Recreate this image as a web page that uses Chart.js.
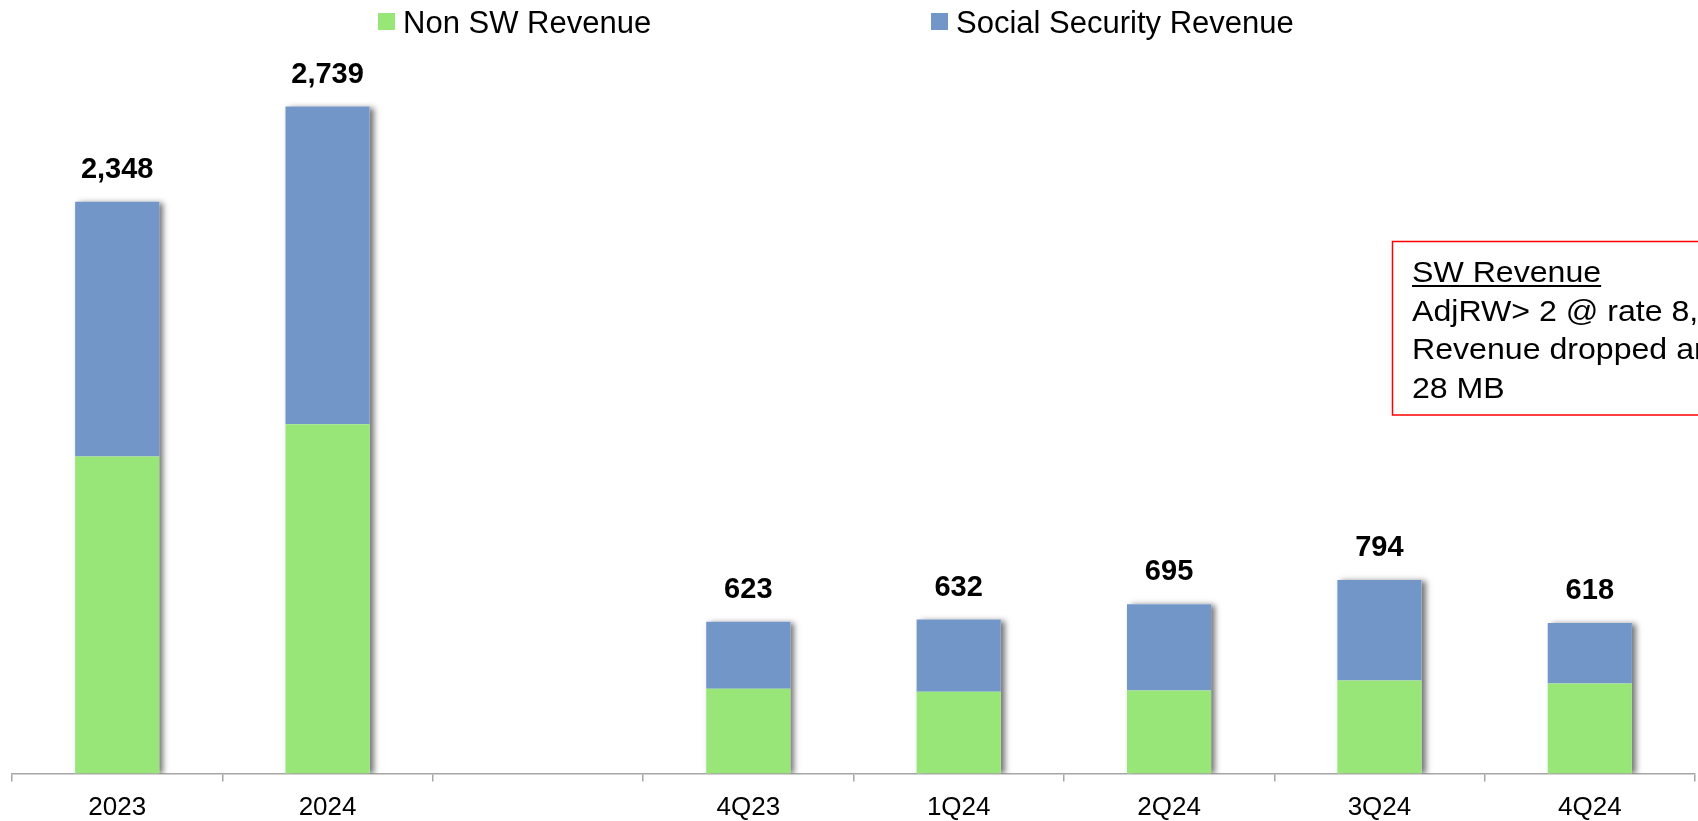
<!DOCTYPE html>
<html><head><meta charset="utf-8">
<script src="https://cdn.jsdelivr.net/npm/chart.js@4.4.0/dist/chart.umd.min.js"></script>
<style>html,body{margin:0;padding:0;background:#fff;overflow:hidden}#wrap{width:1698px;height:821px;position:relative}</style>
</head><body><div id="wrap"><canvas id="c"></canvas></div>
<script>
const categories = ['2023', '2024', '', '4Q23', '1Q24', '2Q24', '3Q24', '4Q24'];
const nonSwRevenue = [1302, 1434, null, 348, 335, 341, 382, 369];
const socialSecurityRevenue = [1046, 1305, null, 275, 297, 354, 412, 249];
const totalLabels = ['2,348', '2,739', null, '623', '632', '695', '794', '618'];
const seriesNames = ['Non SW Revenue', 'Social Security Revenue'];
const noteTitle = 'SW Revenue';
const noteLines = ['AdjRW> 2 @ rate 8,000', 'Revenue dropped around', '28 MB'];

const FONT = "'Liberation Sans', Arial, sans-serif";
const GREEN = '#98E677';
const BLUE = '#7296C8';

const shadowPlugin = {
  id: 'stackShadow',
  beforeDatasetsDraw(chart) {
    const ctx = chart.ctx, a = chart.chartArea;
    const m0 = chart.getDatasetMeta(0), m1 = chart.getDatasetMeta(1);
    ctx.save();
    ctx.beginPath(); ctx.rect(a.left, a.top - 40, a.right - a.left, a.bottom - a.top + 40); ctx.clip();
    m1.data.forEach((el, i) => {
      if (socialSecurityRevenue[i] == null) return;
      const base = m0.data[i].base;
      ctx.save();
      ctx.shadowColor = 'rgba(0,0,0,0.55)';
      ctx.shadowBlur = 6;
      ctx.shadowOffsetX = 4;
      ctx.shadowOffsetY = 1;
      ctx.fillStyle = '#ffffff';
      ctx.fillRect(el.x - el.width / 2, el.y, el.width, base - el.y);
      ctx.restore();
    });
    ctx.restore();
  }
};

const overlayPlugin = {
  id: 'overlay',
  afterDraw(chart) {
    const ctx = chart.ctx;
    const m1 = chart.getDatasetMeta(1);
    ctx.save();
    // totals
    ctx.fillStyle = '#000';
    ctx.font = 'bold 29px ' + FONT;
    ctx.textAlign = 'center';
    ctx.textBaseline = 'alphabetic';
    m1.data.forEach((el, i) => {
      if (totalLabels[i] == null) return;
      ctx.fillText(totalLabels[i], el.x, el.y - 24);
    });
    // legend
    const items = [{x: 378, c: GREEN}, {x: 931, c: BLUE}];
    ctx.textAlign = 'left';
    ctx.font = '31px ' + FONT;
    items.forEach((it, i) => {
      ctx.fillStyle = it.c;
      ctx.fillRect(it.x, 13, 17, 17);
      ctx.fillStyle = '#000';
      ctx.fillText(seriesNames[i], it.x + 25, 33);
    });
    // note box
    ctx.fillStyle = '#fff';
    ctx.fillRect(1392, 241, 320, 174);
    ctx.strokeStyle = '#FF0000';
    ctx.lineWidth = 1.5;
    ctx.strokeRect(1392.5, 241.5, 320, 173.5);
    ctx.save();
    ctx.translate(1412, 0);
    ctx.scale(1.07, 1);
    ctx.fillStyle = '#000';
    ctx.font = '30px ' + FONT;
    ctx.fillText(noteTitle, 0, 282);
    const w = ctx.measureText(noteTitle).width;
    ctx.fillRect(0, 285, w, 2);
    noteLines.forEach((t, i) => ctx.fillText(t, 0, 282 + 38.5 * (i + 1)));
    ctx.restore();
    ctx.restore();
  }
};

new Chart(document.getElementById('c'), {
  type: 'bar',
  data: {
    labels: categories,
    datasets: [
      {label: seriesNames[0], data: nonSwRevenue, backgroundColor: GREEN, barPercentage: 0.4, categoryPercentage: 1},
      {label: seriesNames[1], data: socialSecurityRevenue, backgroundColor: BLUE, barPercentage: 0.4, categoryPercentage: 1}
    ]
  },
  options: {
    responsive: true,
    maintainAspectRatio: false,
    animation: false,
    layout: {padding: {left: 12, right: 3, top: 43, bottom: -13}},
    plugins: {legend: {display: false}, tooltip: {enabled: false}},
    scales: {
      x: {
        stacked: true,
        offset: true,
        grid: {display: true, offset: true, drawOnChartArea: false, drawTicks: true, tickLength: 8, color: '#A6A6A6', lineWidth: 1.5},
        border: {display: true, color: '#A6A6A6', width: 1.5},
        ticks: {color: '#000', font: {family: FONT, size: 26, lineHeight: 1.1}, padding: 12, maxRotation: 0, autoSkip: false}
      },
      y: {
        stacked: true,
        display: false,
        min: 0,
        max: 3000
      }
    }
  },
  plugins: [shadowPlugin, overlayPlugin]
});
</script>
</body></html>
